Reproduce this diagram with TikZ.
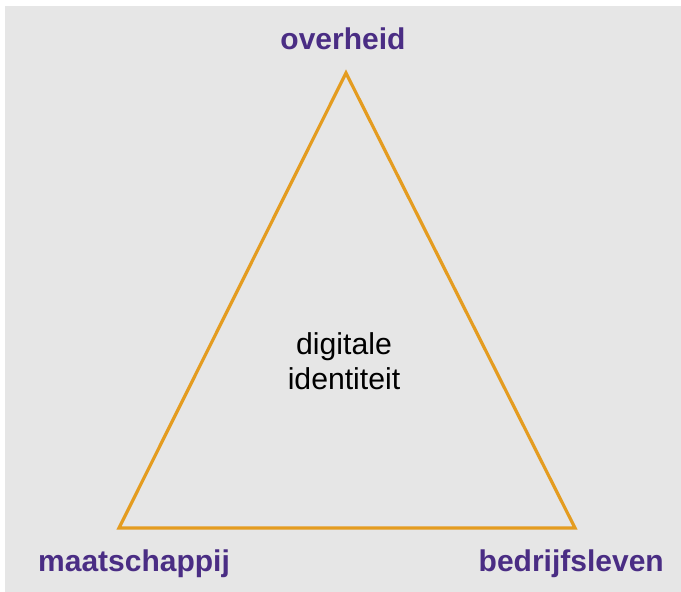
\documentclass[tikz,border=0pt]{standalone}
\usepackage{fontspec}
\setmainfont{Liberation Sans}
\definecolor{panel}{HTML}{E6E6E6}
\definecolor{edgeorange}{HTML}{E49C20}
\definecolor{labelpurple}{HTML}{4A2D84}
\tikzset{
  corner/.style={font=\fontsize{30}{33}\selectfont\bfseries, text=labelpurple, inner sep=0pt},
  centre/.style={font=\fontsize{30.2}{35}\selectfont, text=black, align=center, inner sep=0pt},
  side/.style={draw=edgeorange, line width=3.2pt, line join=miter}
}
\begin{document}
\begin{tikzpicture}[x=1pt,y=-1pt]
  \useasboundingbox (0,0) rectangle (681,592);
  \fill[panel] (5,6) rectangle (681,592);
  % triangle corners
  \coordinate (top) at (346,73);
  \coordinate (bl) at (119,528);
  \coordinate (br) at (575,528);
  \draw[side] (top) -- (br) -- (bl) -- cycle;
  % labels
  \node[corner, anchor=base] (gov) at (343,49) {overheid};
  \node[corner, anchor=base west] (soc) at (38,571) {maatschappij};
  \node[corner, anchor=base east] (biz) at (664,571) {bedrijfsleven};
  \node[centre] (mid) at (344,361) {digitale\\identiteit};
\end{tikzpicture}
\end{document}
